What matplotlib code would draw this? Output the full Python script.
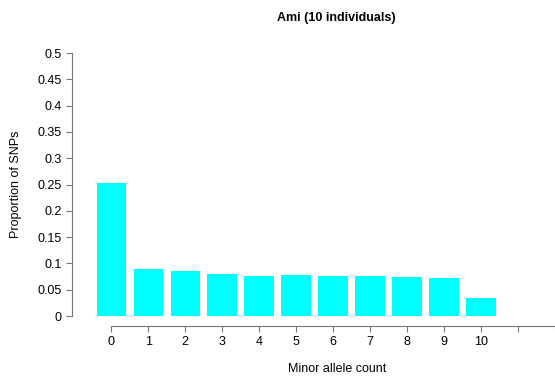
import matplotlib
matplotlib.use("Agg")
import matplotlib.pyplot as plt

counts = list(range(11))
proportions = [0.253, 0.090, 0.085, 0.0795, 0.077, 0.078, 0.0765, 0.077, 0.074, 0.0728, 0.035]
xtick_pos = list(range(13))
xtick_labels = [str(c) for c in counts] + ["", ""]
ytick_pos = [0, 0.05, 0.1, 0.15, 0.2, 0.25, 0.3, 0.35, 0.4, 0.45, 0.5]
ytick_labels = ["0", "0.05", "0.1", "0.15", "0.2", "0.25", "0.3", "0.35", "0.4", "0.45", "0.5"]

plt.rcParams["font.family"] = ["Liberation Sans", "DejaVu Sans"]

fig = plt.figure(figsize=(5.55, 3.79), dpi=100)
ax = fig.add_axes([72 / 555, 53 / 379, 1 - 72 / 555, 273 / 379])

ax.bar(counts, proportions, width=0.8, color="#00ffff", edgecolor="none")

# 37.5 px per category, y axis line at x=72 px
ax.set_xlim(-1.065, -1.065 + 483 / 37.5)
ax.set_ylim(-0.019, 0.5)

for s in ["top", "right"]:
    ax.spines[s].set_visible(False)
ax.spines["left"].set_bounds(0, 0.5)
ax.spines["bottom"].set_bounds(0, 12)
for s in ["left", "bottom"]:
    ax.spines[s].set_color("#777777")
    ax.spines[s].set_linewidth(0.8)

ax.set_xticks(xtick_pos)
ax.set_xticklabels(xtick_labels)
ax.set_yticks(ytick_pos)
ax.set_yticklabels(ytick_labels)
ax.tick_params(axis="both", colors="#777777", labelcolor="black", labelsize=9,
               length=4.5, width=0.8)
ax.tick_params(axis="x", pad=3)
ax.tick_params(axis="y", pad=3)

fig.text(336 / 555, 1 - 18 / 379, "Ami (10 individuals)", ha="center", va="center",
         fontsize=9, fontweight="bold")
fig.text(337 / 555, 1 - 369 / 379, "Minor allele count", ha="center", va="center", fontsize=9)
fig.text(16 / 555, 1 - 184 / 379, "Proportion of SNPs", ha="center", va="center",
         rotation=90, fontsize=9)

fig.savefig("out.png", dpi=100)
